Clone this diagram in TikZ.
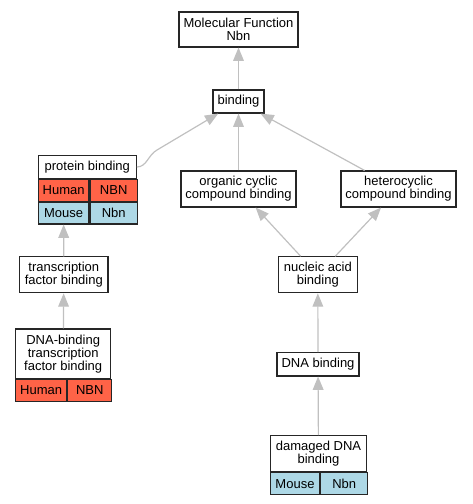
\documentclass[tikz,border=0pt]{standalone}
\usepackage{fontspec}
\setmainfont{Liberation Sans}
\usepackage{xcolor}
\usetikzlibrary{arrows.meta}
\definecolor{goHuman}{RGB}{255, 99, 71}
\definecolor{goMouse}{RGB}{173, 216, 230}
\definecolor{goEdge}{RGB}{192, 192, 192}

\begin{document}
\begin{tikzpicture}[x=0.75pt, y=-0.75pt, font=\fontsize{9.75}{9.75}\selectfont]
  \tikzstyle{term} = [draw=black!85, fill=white, line width=0.8pt, inner sep=0pt, align=center]
  \tikzstyle{human} = [term, fill=goHuman, minimum height=16.25pt, anchor=north west]
  \tikzstyle{mouse} = [term, fill=goMouse, minimum height=16.25pt, anchor=north west]
  \tikzstyle{arrow} = [-{Triangle[length=10pt, width=8pt]}, goEdge, line width=0.9pt]

  \useasboundingbox (0,0) rectangle (472,504);

  \node[term, minimum width=89.25pt, minimum height=26.25pt] (mf) at (238.5,29.5) {Molecular Function\\Nbn};
  \node[term, minimum width=38.25pt, minimum height=17.25pt] (bind) at (238.5,101.5) {binding};

  % protein binding with its gene rows
  \node[term, minimum width=73.5pt, minimum height=17.25pt] (pb) at (87.3,167) {protein binding};
  \node[human, minimum width=38pt] (pbHs) at (pb.south west) {Human};
  \node[human, minimum width=35.5pt] (pbHg) at (pbHs.north east) {NBN};
  \node[mouse, minimum width=38pt] (pbMs) at (pbHs.south west) {Mouse};
  \node[mouse, minimum width=35.5pt] (pbMg) at (pbMs.north east) {Nbn};

  \node[term, minimum width=86.25pt, minimum height=27pt] (occ) at (238.5,189) {organic cyclic\\compound binding};
  \node[term, minimum width=86.25pt, minimum height=27pt] (hcc) at (398.5,189) {heterocyclic\\compound binding};

  \node[term, minimum width=66.25pt, minimum height=27pt] (tf) at (63.8,274.8) {transcription\\factor binding};
  \node[term, minimum width=59.25pt, minimum height=27pt] (na) at (317.8,274.8) {nucleic acid\\binding};

  % DNA-binding transcription factor binding
  \node[term, minimum width=71.25pt, minimum height=37.25pt] (dbtf) at (63.2,353.8) {DNA-binding\\transcription\\factor binding};
  \node[human, minimum width=38.25pt, minimum height=16pt] (dbtfHs) at (dbtf.south west) {Human};
  \node[human, minimum width=33pt, minimum height=16pt] (dbtfHg) at (dbtfHs.north east) {NBN};

  \node[term, minimum width=61.5pt, minimum height=17.5pt] (dna) at (318,364.3) {DNA binding};

  % damaged DNA binding
  \node[term, minimum width=72.25pt, minimum height=27pt] (dmg) at (318.5,453.7) {damaged DNA\\binding};
  \node[mouse, minimum width=37pt] (dmgMs) at (dmg.south west) {Mouse};
  \node[mouse, minimum width=35.25pt] (dmgMg) at (dmgMs.north east) {Nbn};

  \coordinate (pbBend) at (157,150);

  \draw[arrow] (bind) -- (mf);
  \draw[arrow] (pb.east) .. controls +(10,0) and +(-9,5) .. (pbBend) -- (bind);
  \draw[arrow] (occ) -- (bind);
  \draw[arrow] (hcc) -- (bind);
  \draw[arrow] (na) -- (occ);
  \draw[arrow] (na) -- (hcc);
  \draw[arrow] (tf) -- (pbMs);
  \draw[arrow] (dbtf) -- (tf);
  \draw[arrow] (dna) -- (na);
  \draw[arrow] (dmg) -- (dna);
\end{tikzpicture}
\end{document}
